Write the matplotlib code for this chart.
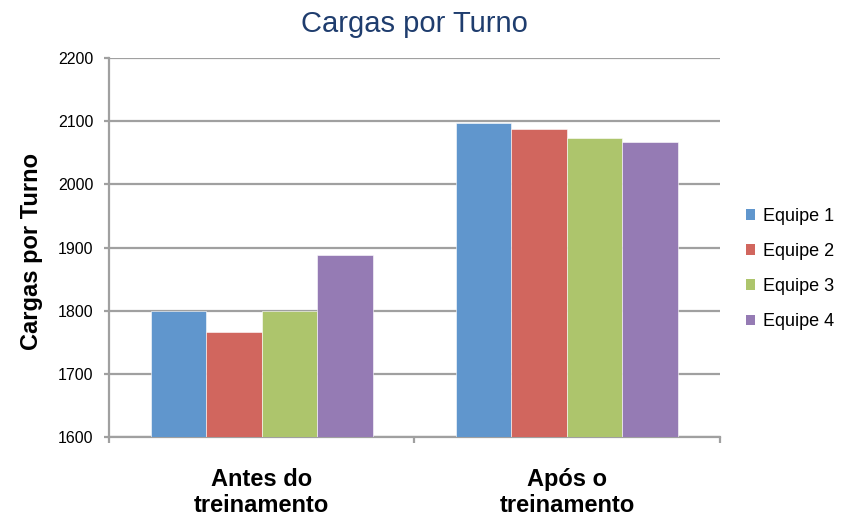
import matplotlib
matplotlib.use("Agg")
import matplotlib.pyplot as plt
from matplotlib.patches import Patch
import numpy as np

plt.rcParams["font.family"] = ["Liberation Sans", "DejaVu Sans"]

categories = ["Antes do\ntreinamento", "Após o\ntreinamento"]
series = ["Equipe 1", "Equipe 2", "Equipe 3", "Equipe 4"]
antes = [1800, 1767, 1800, 1889]
apos = [2097, 2088, 2074, 2067]
colors = ["#6096CD", "#D1665E", "#ADC56C", "#957BB4"]
yticks = [1600, 1700, 1800, 1900, 2000, 2100, 2200]

grid_c = "#A0A0A0"

fig = plt.figure(figsize=(8.47, 5.17), dpi=100)
ax = fig.add_axes([109 / 847, 1 - 437.3 / 517, 610.5 / 847, 379.3 / 517])

x = np.arange(len(categories))
w = 1 / 5.5
for i, name in enumerate(series):
    vals = [antes[i], apos[i]]
    ax.bar(x + (i - 1.5) * w, [v - 1600 for v in vals], width=w, bottom=1600,
           color=colors[i], edgecolor="white", linewidth=0.4, zorder=3, label=name)

ax.set_xlim(-0.5, 1.5)
ax.set_ylim(1600, 2200)
ax.set_yticks(yticks)
ax.set_yticklabels([str(t) for t in yticks], fontsize=11.5)
ax.yaxis.grid(True, color=grid_c, linewidth=1.6, zorder=0)
ax.set_axisbelow(True)

ax.set_xticks(x)
ax.set_xticklabels(categories, fontsize=17, fontweight="bold", linespacing=1.2)
ax.tick_params(axis="x", which="major", length=0, pad=22)
ax.set_xticks([-0.5, 0.5, 1.5], minor=True)
ax.tick_params(axis="x", which="minor", length=4.5, width=1.6, color=grid_c, direction="out")
ax.tick_params(axis="y", length=3.8, width=1.6, color=grid_c, pad=7.5)

for s in ["top", "right"]:
    ax.spines[s].set_visible(False)
for s in ["left", "bottom"]:
    ax.spines[s].set_color(grid_c)
    ax.spines[s].set_linewidth(1.6)

ax.set_ylabel("Cargas por Turno", fontsize=17, fontweight="bold")
ax.yaxis.set_label_coords(-0.108, 0.49)

fig.text(414 / 847, 1 - 32 / 517, "Cargas por Turno", fontsize=21, color="#1F3D6E",
         ha="center", va="baseline")

handles = [Patch(facecolor=c, edgecolor="none") for c in colors]
fig.legend(handles, series, loc="center left", bbox_to_anchor=(746 / 847, 1 - 269 / 517),
           frameon=False, fontsize=13, handlelength=0.5, handleheight=0.5,
           handletextpad=0.45, labelspacing=1.0, borderpad=0, borderaxespad=0)

fig.savefig("out.png", dpi=100)
